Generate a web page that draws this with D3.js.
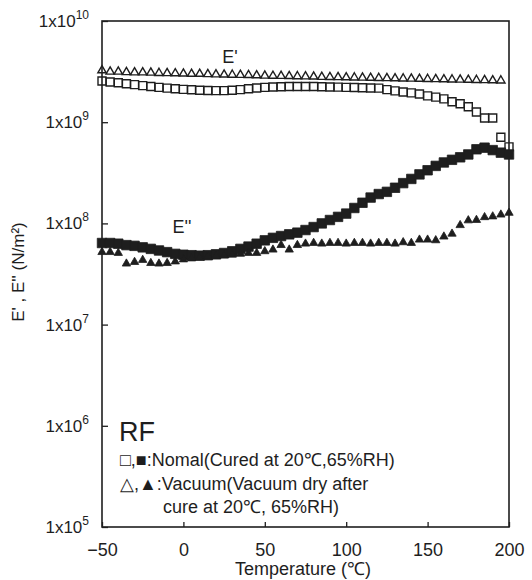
<!DOCTYPE html>
<html>
<head>
<meta charset="utf-8">
<script src="https://cdn.jsdelivr.net/npm/d3@7"></script>
<style>
  body { margin: 0; background: #fff; }
  text { font-family: "Liberation Sans", Arial, sans-serif; fill: #1e1e1e; }
</style>
</head>
<body>
<script>
// temperatures (degC), one reading every 5 degrees
var temps = [-50,-45,-40,-35,-30,-25,-20,-15,-10,-5,0,5,10,15,20,25,30,35,40,45,50,
             55,60,65,70,75,80,85,90,95,100,105,110,115,120,125,130,135,140,145,150,
             155,160,165,170,175,180,185,190,195,200];

// E' normal (open squares)
var normalEp = [2.55e9,2.5e9,2.45e9,2.4e9,2.35e9,2.3e9,2.25e9,2.21e9,2.17e9,2.14e9,2.11e9,
                2.09e9,2.07e9,2.06e9,2.05e9,2.05e9,2.07e9,2.1e9,2.14e9,2.18e9,2.21e9,
                2.23e9,2.24e9,2.25e9,2.25e9,2.25e9,2.25e9,2.24e9,2.23e9,2.22e9,2.21e9,
                2.2e9,2.19e9,2.18e9,2.17e9,2.1e9,2.04e9,1.99e9,1.95e9,1.9e9,1.82e9,
                1.77e9,1.7e9,1.59e9,1.52e9,1.42e9,1.26e9,1.1e9,1.1e9,7.1e8,5.7e8];

// E' vacuum (open triangles)
var vacuumEp = [3.25e9,3.15e9,3.15e9,3.12e9,3.1e9,3.1e9,3.08e9,3.06e9,3.05e9,3.04e9,3.02e9,
                3.0e9,3.0e9,2.98e9,2.96e9,2.95e9,2.94e9,2.93e9,2.92e9,2.9e9,2.88e9,
                2.87e9,2.86e9,2.85e9,2.84e9,2.83e9,2.82e9,2.8e9,2.79e9,2.78e9,2.77e9,
                2.76e9,2.75e9,2.74e9,2.73e9,2.72e9,2.71e9,2.7e9,2.69e9,2.68e9,2.67e9,
                2.66e9,2.65e9,2.64e9,2.63e9,2.62e9,2.61e9,2.6e9,2.59e9,2.58e9,null];

// E'' normal (filled squares)
var normalEpp = [6.4e7,6.4e7,6.3e7,6.1e7,6.0e7,5.8e7,5.6e7,5.4e7,5.2e7,5.0e7,4.9e7,
                 4.85e7,4.8e7,4.85e7,4.95e7,5.1e7,5.3e7,5.6e7,5.9e7,6.3e7,6.8e7,
                 7.2e7,7.5e7,7.8e7,8.1e7,8.6e7,9.2e7,1.0e8,1.08e8,1.16e8,1.25e8,
                 1.42e8,1.6e8,1.8e8,1.95e8,2.05e8,2.25e8,2.5e8,2.75e8,3.05e8,3.35e8,
                 3.7e8,4.0e8,4.25e8,4.5e8,4.8e8,5.4e8,5.6e8,5.3e8,5.0e8,4.8e8];

// E'' vacuum (filled triangles)
var vacuumEpp = [5.2e7,5.2e7,5.1e7,4.0e7,4.15e7,4.35e7,4.05e7,4.0e7,4.05e7,4.2e7,4.4e7,
                 4.5e7,4.6e7,4.7e7,4.75e7,4.8e7,4.9e7,5.0e7,5.1e7,5.1e7,5.3e7,
                 5.5e7,6.1e7,5.5e7,6.1e7,6.3e7,6.4e7,6.3e7,6.4e7,6.4e7,6.3e7,
                 6.4e7,6.4e7,6.3e7,6.4e7,6.4e7,6.3e7,6.5e7,6.4e7,6.9e7,6.9e7,
                 6.8e7,7.4e7,7.9e7,9.6e7,1.07e8,1.08e8,1.15e8,1.17e8,1.22e8,1.27e8];

var yTickExps = [5, 6, 7, 8, 9, 10];
var xTicks = [-50, 0, 50, 100, 150, 200];

var width = 532, height = 580;
var plot = { left: 102, right: 509, top: 21, bottom: 527 };
var ink = "#1e1e1e";

var svg = d3.select("body").append("svg")
    .attr("width", width)
    .attr("height", height);

var x = d3.scaleLinear().domain([-50, 200]).range([plot.left, plot.right]);
var y = d3.scaleLog().domain([1e5, 1e10]).range([plot.bottom, plot.top]);

// axes (ticks point inward)
var yAxis = d3.axisLeft(y)
    .tickValues(yTickExps.map(function(e) { return Math.pow(10, e); }))
    .tickSizeInner(-6).tickSizeOuter(0).tickPadding(13)
    .tickFormat("");
var yG = svg.append("g")
    .attr("transform", "translate(" + plot.left + ",0)")
    .call(yAxis);
yG.select(".domain").remove();
yG.selectAll("line").attr("stroke", ink).attr("stroke-width", 1.3);
yG.selectAll(".tick").each(function(d, i) {
    var t = d3.select(this).select("text")
        .attr("font-size", 17).attr("fill", ink)
        .attr("font-family", "Liberation Sans, Arial, sans-serif");
    t.append("tspan").text("1x10");
    t.append("tspan").attr("dy", -8).attr("font-size", 12).text(yTickExps[i]);
});

var xAxis = d3.axisBottom(x)
    .tickValues(xTicks)
    .tickSizeInner(-5).tickSizeOuter(0).tickPadding(16);
var xG = svg.append("g")
    .attr("transform", "translate(0," + plot.bottom + ")")
    .call(xAxis);
xG.select(".domain").remove();
xG.selectAll("line").attr("stroke", ink).attr("stroke-width", 1.3);
xG.selectAll("text").attr("font-size", 18).attr("fill", ink)
    .attr("font-family", "Liberation Sans, Arial, sans-serif");

// frame
svg.append("rect")
    .attr("x", plot.left).attr("y", plot.top)
    .attr("width", plot.right - plot.left)
    .attr("height", plot.bottom - plot.top)
    .attr("fill", "none").attr("stroke", ink).attr("stroke-width", 1.6);

function series(vals) {
    return temps.map(function(t, i) { return { t: t, v: vals[i] }; })
        .filter(function(d) { return d.v != null; });
}

function drawMarks(vals, type, size, filled) {
    var sym = d3.symbol().type(type).size(size);
    svg.append("g").selectAll("path")
        .data(series(vals))
        .enter().append("path")
        .attr("d", sym)
        .attr("transform", function(d) {
            return "translate(" + x(d.t) + "," + y(d.v) + ")";
        })
        .attr("fill", filled ? ink : "none")
        .attr("stroke", ink)
        .attr("stroke-width", filled ? 0.8 : 1.4);
}

drawMarks(vacuumEp, d3.symbolTriangle, 30, false);
drawMarks(normalEp, d3.symbolSquare, 64, false);
drawMarks(normalEpp, d3.symbolSquare, 90, true);
drawMarks(vacuumEpp, d3.symbolTriangle, 30, true);

// curve labels
svg.append("text").attr("x", 230).attr("y", 63)
    .attr("text-anchor", "middle").attr("font-size", 18).text("E'");
svg.append("text").attr("x", 182).attr("y", 233)
    .attr("text-anchor", "middle").attr("font-size", 18).text("E''");

// axis titles
svg.append("text")
    .attr("x", 303).attr("y", 575)
    .attr("text-anchor", "middle").attr("font-size", 18)
    .text("Temperature (℃)");
svg.append("text")
    .attr("transform", "translate(24,272) rotate(-90)")
    .attr("text-anchor", "middle").attr("font-size", 17)
    .text("E' , E'' (N/m²)");

// legend
svg.append("text").attr("x", 119).attr("y", 441)
    .attr("font-size", 27).text("RF");
svg.append("text").attr("x", 120).attr("y", 466)
    .attr("font-size", 18).text("□,■:Nomal(Cured at 20℃,65%RH)");
svg.append("text").attr("x", 120).attr("y", 490)
    .attr("font-size", 18).text("△,▲:Vacuum(Vacuum dry after");
svg.append("text").attr("x", 163).attr("y", 513)
    .attr("font-size", 18).text("cure at 20℃, 65%RH)");
</script>
</body>
</html>
